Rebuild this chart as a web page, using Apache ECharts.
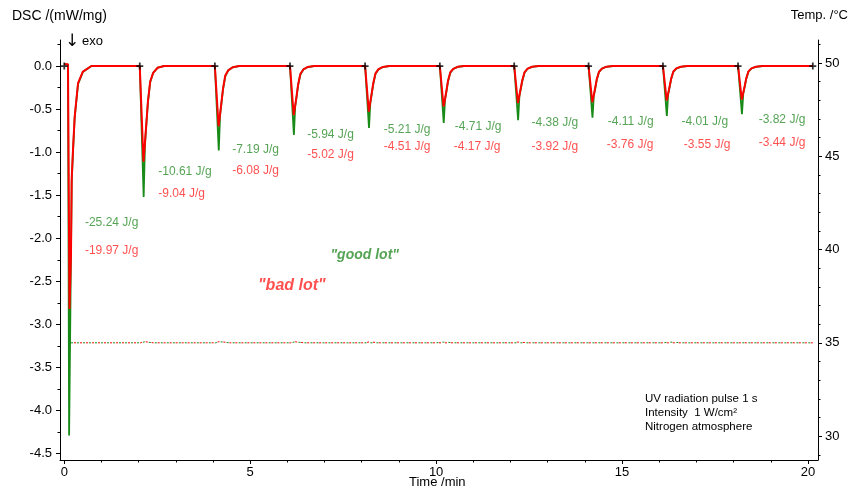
<!DOCTYPE html>
<html>
<head>
<meta charset="utf-8">
<script src="https://cdn.jsdelivr.net/npm/echarts@6/dist/echarts.min.js"></script>
<style>
  html, body { margin: 0; padding: 0; background: #ffffff; }
  #chart { width: 851px; height: 492px; }
</style>
</head>
<body>
<div id="chart"></div>
<script>
// DSC signal after each UV pulse, [time /min, DSC /(mW/mg)]
const goodLotDsc = [
  [0.00, 0.02], [0.10, 0.02], [0.13, -4.29], [0.17, -2.60], [0.20, -1.35], [0.234, -1.00], [0.28, -0.60], [0.37, -0.21], [0.50, -0.07], [0.73, 0],
  [2.03, 0], [2.08, 0], [2.135, -1.52], [2.17, -0.91], [2.21, -0.66], [2.25, -0.42], [2.31, -0.19], [2.39, -0.08], [2.51, -0.02], [2.68, 0],
  [4.05, 0], [4.10, 0], [4.155, -0.98], [4.19, -0.57], [4.23, -0.42], [4.27, -0.27], [4.33, -0.12], [4.41, -0.05], [4.53, -0.015], [4.70, 0],
  [6.07, 0], [6.12, 0], [6.175, -0.80], [6.21, -0.47], [6.25, -0.35], [6.29, -0.22], [6.35, -0.10], [6.43, -0.04], [6.55, -0.012], [6.72, 0],
  [8.09, 0], [8.14, 0], [8.195, -0.72], [8.23, -0.43], [8.27, -0.32], [8.31, -0.21], [8.37, -0.09], [8.45, -0.04], [8.57, -0.012], [8.74, 0],
  [10.10, 0], [10.15, 0], [10.205, -0.66], [10.24, -0.39], [10.28, -0.29], [10.32, -0.18], [10.38, -0.08], [10.46, -0.035], [10.58, -0.01], [10.75, 0],
  [12.10, 0], [12.15, 0], [12.205, -0.63], [12.24, -0.35], [12.28, -0.26], [12.32, -0.17], [12.38, -0.075], [12.46, -0.032], [12.58, -0.01], [12.75, 0],
  [14.10, 0], [14.15, 0], [14.205, -0.60], [14.24, -0.35], [14.28, -0.26], [14.32, -0.16], [14.38, -0.07], [14.46, -0.031], [14.58, -0.009], [14.75, 0],
  [16.10, 0], [16.15, 0], [16.205, -0.58], [16.24, -0.33], [16.28, -0.245], [16.32, -0.155], [16.38, -0.067], [16.46, -0.03], [16.58, -0.009], [16.75, 0],
  [18.12, 0], [18.17, 0], [18.225, -0.56], [18.26, -0.32], [18.30, -0.24], [18.34, -0.15], [18.40, -0.065], [18.48, -0.029], [18.60, -0.009], [18.77, 0],
  [20.13, 0]
];

const badLotDsc = [
  [0.00, 0.02], [0.10, 0.02], [0.14, -2.82], [0.18, -2.20], [0.20, -1.30], [0.234, -0.98], [0.28, -0.59], [0.37, -0.20], [0.50, -0.066], [0.73, 0],
  [2.03, 0], [2.08, 0], [2.13, -1.11], [2.17, -0.89], [2.21, -0.65], [2.25, -0.41], [2.31, -0.18], [2.39, -0.08], [2.51, -0.02], [2.68, 0],
  [4.05, 0], [4.10, 0], [4.15, -0.70], [4.19, -0.56], [4.23, -0.41], [4.27, -0.26], [4.33, -0.11], [4.41, -0.05], [4.53, -0.014], [4.70, 0],
  [6.07, 0], [6.12, 0], [6.17, -0.57], [6.21, -0.46], [6.25, -0.34], [6.29, -0.21], [6.35, -0.09], [6.43, -0.04], [6.55, -0.011], [6.72, 0],
  [8.09, 0], [8.14, 0], [8.19, -0.53], [8.23, -0.42], [8.27, -0.31], [8.31, -0.20], [8.37, -0.085], [8.45, -0.037], [8.57, -0.011], [8.74, 0],
  [10.10, 0], [10.15, 0], [10.20, -0.47], [10.24, -0.38], [10.28, -0.28], [10.32, -0.17], [10.38, -0.075], [10.46, -0.033], [10.58, -0.009], [10.75, 0],
  [12.10, 0], [12.15, 0], [12.20, -0.43], [12.24, -0.34], [12.28, -0.25], [12.32, -0.16], [12.38, -0.07], [12.46, -0.03], [12.58, -0.009], [12.75, 0],
  [14.10, 0], [14.15, 0], [14.20, -0.42], [14.24, -0.34], [14.28, -0.25], [14.32, -0.155], [14.38, -0.067], [14.46, -0.03], [14.58, -0.008], [14.75, 0],
  [16.10, 0], [16.15, 0], [16.20, -0.40], [16.24, -0.32], [16.28, -0.236], [16.32, -0.148], [16.38, -0.064], [16.46, -0.028], [16.58, -0.008], [16.75, 0],
  [18.12, 0], [18.17, 0], [18.22, -0.39], [18.26, -0.31], [18.30, -0.23], [18.34, -0.144], [18.40, -0.062], [18.48, -0.027], [18.60, -0.008], [18.77, 0],
  [20.13, 0]
];

// Sample temperature, [time /min, °C]
const goodLotTemp = [
  [0.10, 35.00], [2.05, 35.00], [2.15, 35.05], [2.40, 35.00], [4.07, 35.00], [4.18, 35.06], [4.45, 35.00],
  [6.09, 35.00], [6.20, 35.05], [6.45, 35.00], [10.0, 35.00], [10.2, 35.04], [10.5, 35.00],
  [16.1, 35.00], [16.3, 35.04], [16.6, 35.00], [20.13, 35.00]
];
const badLotTemp = [
  [0.10, 35.00], [2.05, 35.00], [2.14, 35.07], [2.40, 35.00], [4.07, 35.00], [4.17, 35.07], [4.45, 35.00],
  [6.09, 35.00], [6.19, 35.06], [6.45, 35.00], [8.1, 35.00], [8.2, 35.05], [8.5, 35.00],
  [12.1, 35.00], [12.2, 35.04], [12.5, 35.00], [20.13, 35.00]
];

// Segment markers (start of each UV pulse) on the baseline
const pulseTimes = [0.0, 2.03, 4.05, 6.07, 8.09, 10.10, 12.10, 14.10, 16.10, 18.12, 20.13];

// Peak enthalpies and where their labels sit (time, DSC)
const goodLotEnthalpy = ['-25.24 J/g', '-10.61 J/g', '-7.19 J/g', '-5.94 J/g', '-5.21 J/g', '-4.71 J/g', '-4.38 J/g', '-4.11 J/g', '-4.01 J/g', '-3.82 J/g'];
const badLotEnthalpy  = ['-19.97 J/g', '-9.04 J/g', '-6.08 J/g', '-5.02 J/g', '-4.51 J/g', '-4.17 J/g', '-3.92 J/g', '-3.76 J/g', '-3.55 J/g', '-3.44 J/g'];
const goodLabelAt = [[0.556, -1.814], [2.527, -1.229], [4.516, -0.977], [6.532, -0.802], [8.594, -0.736], [10.503, -0.706], [12.565, -0.659], [14.616, -0.648], [16.597, -0.648], [18.675, -0.628]];
const badLabelAt  = [[0.556, -2.140], [2.527, -1.480], [4.516, -1.221], [6.532, -1.035], [8.594, -0.938], [10.476, -0.938], [12.565, -0.938], [14.589, -0.910], [16.659, -0.910], [18.675, -0.892]];

// Axis ticks
const timeTicks = [0, 5, 10, 15, 20];
const timeMinorTicks = [1, 2, 3, 4, 6, 7, 8, 9, 11, 12, 13, 14, 16, 17, 18, 19];
const dscTicks = [0, -0.5, -1, -1.5, -2, -2.5, -3, -3.5, -4, -4.5];
const dscMinorTicks = [0.25, -0.25, -0.75, -1.25, -1.75, -2.25, -2.75, -3.25, -3.75, -4.25];
const tempTicks = [30, 35, 40, 45, 50];
const tempMinorTicks = [29, 31, 32, 33, 34, 36, 37, 38, 39, 41, 42, 43, 44, 46, 47, 48, 49, 51];

const GREEN = '#188a18';
const GREEN_TEXT = '#2b8c2b';
const RED = '#ff0000';
const RED_TEXT = '#ff2424';
const FONT = '"Liberation Sans", Arial, sans-serif';

const X_MIN = -0.115, X_MAX = 20.27;
const Y_MIN = -4.575, Y_MAX = 0.302;
const T_MIN = 28.72, T_MAX = 51.23;

const chart = echarts.init(document.getElementById('chart'), null, { renderer: 'canvas' });

const axisLineStyle = { show: true, onZero: false, lineStyle: { color: '#000', width: 1 } };
const tickLabel = { color: '#000', fontFamily: FONT, fontSize: 13 };

function minorAxis(base, values) {
  return Object.assign({
    type: 'value',
    axisLine: { show: false, onZero: false },
    axisLabel: { show: false },
    splitLine: { show: false },
    axisTick: { show: true, length: 2.5, lineStyle: { color: '#000', width: 1 }, customValues: values }
  }, base);
}

const enthalpyLabels = (pos, texts) => pos.map((p, i) => ({ value: [p[0], p[1]], name: texts[i] }));

chart.setOption({
  animation: false,
  backgroundColor: '#fff',
  grid: { left: 60, right: 33, top: 40, bottom: 32, containLabel: false },
  xAxis: [
    {
      type: 'value', min: X_MIN, max: X_MAX, position: 'bottom',
      axisLine: axisLineStyle,
      axisTick: { show: true, length: 4, lineStyle: { color: '#000' }, customValues: timeTicks },
      axisLabel: Object.assign({ customValues: timeTicks, margin: 6 }, tickLabel),
      splitLine: { show: false }
    },
    minorAxis({ min: X_MIN, max: X_MAX, position: 'bottom' }, timeMinorTicks)
  ],
  yAxis: [
    {
      type: 'value', min: Y_MIN, max: Y_MAX, position: 'left',
      axisLine: axisLineStyle,
      axisTick: { show: true, length: 4, lineStyle: { color: '#000' }, customValues: dscTicks },
      axisLabel: Object.assign({ customValues: dscTicks, margin: 8, formatter: v => v.toFixed(1) }, tickLabel),
      splitLine: { show: false }
    },
    minorAxis({ min: Y_MIN, max: Y_MAX, position: 'left' }, dscMinorTicks),
    {
      type: 'value', min: T_MIN, max: T_MAX, position: 'right',
      axisLine: axisLineStyle,
      axisTick: { show: true, length: 4, lineStyle: { color: '#000' }, customValues: tempTicks },
      axisLabel: Object.assign({ customValues: tempTicks, margin: 7 }, tickLabel),
      splitLine: { show: false }
    },
    minorAxis({ min: T_MIN, max: T_MAX, position: 'right' }, tempMinorTicks)
  ],
  series: [
    {
      name: 'good lot temperature', type: 'line', yAxisIndex: 2, data: goodLotTemp,
      symbol: 'none', silent: true,
      lineStyle: { color: GREEN, width: 1, type: [2, 4], dashOffset: 3 }
    },
    {
      name: 'bad lot temperature', type: 'line', yAxisIndex: 2, data: badLotTemp,
      symbol: 'none', silent: true,
      lineStyle: { color: RED, width: 1, type: [2, 4] }
    },
    {
      name: 'good lot', type: 'line', data: goodLotDsc, symbol: 'none', silent: true,
      lineStyle: { color: GREEN, width: 1.8 }
    },
    {
      name: 'bad lot', type: 'line', data: badLotDsc, symbol: 'none', silent: true,
      lineStyle: { color: RED, width: 2 }
    },
    {
      name: 'pulse markers', type: 'scatter', silent: true,
      data: pulseTimes.map(t => [t, 0]),
      symbol: 'path://M-0.25,-1H0.25V-0.25H1V0.25H0.25V1H-0.25V0.25H-1V-0.25H-0.25Z',
      symbolSize: 7,
      itemStyle: { color: '#000' },
      z: 5
    },
    {
      name: 'good lot enthalpy', type: 'scatter', silent: true, symbolSize: 0,
      data: enthalpyLabels(goodLabelAt, goodLotEnthalpy),
      label: { show: true, position: 'right', distance: 0, formatter: p => p.name, color: GREEN_TEXT, fontFamily: FONT, fontSize: 12 }
    },
    {
      name: 'bad lot enthalpy', type: 'scatter', silent: true, symbolSize: 0,
      data: enthalpyLabels(badLabelAt, badLotEnthalpy),
      label: { show: true, position: 'right', distance: 0, formatter: p => p.name, color: RED_TEXT, fontFamily: FONT, fontSize: 12 }
    },
    {
      name: 'lot names', type: 'scatter', silent: true, symbolSize: 0,
      data: [
        { value: [8.08, -2.198], name: '"good lot"', label: { color: GREEN_TEXT, fontSize: 14 } },
        { value: [6.12, -2.547], name: '"bad lot"', label: { color: RED_TEXT, fontSize: 16 } }
      ],
      label: { show: true, position: 'inside', formatter: p => p.name, fontFamily: FONT, fontWeight: 'bold', fontStyle: 'italic' }
    }
  ],
  graphic: [
    { type: 'text', left: 12, top: 9, style: { text: 'DSC /(mW/mg)', font: '14px ' + FONT, fill: '#000' } },
    { type: 'text', right: 3, top: 9, style: { text: 'Temp. /°C', font: '13px ' + FONT, fill: '#000' } },
    { type: 'text', left: 409, top: 476, style: { text: 'Time /min', font: '13px ' + FONT, fill: '#000' } },
    { type: 'text', left: 65, top: 33, style: { text: '↓', font: '17px "DejaVu Sans", sans-serif', fill: '#000' } },
    { type: 'text', left: 82, top: 35, style: { text: 'exo', font: '13px ' + FONT, fill: '#000' } },
    {
      type: 'text', left: 645, top: 392,
      style: {
        text: 'UV radiation pulse 1 s\nIntensity  1 W/cm²\nNitrogen atmosphere',
        font: '11.5px ' + FONT, lineHeight: 14, fill: '#000'
      }
    }
  ]
});
</script>
</body>
</html>
